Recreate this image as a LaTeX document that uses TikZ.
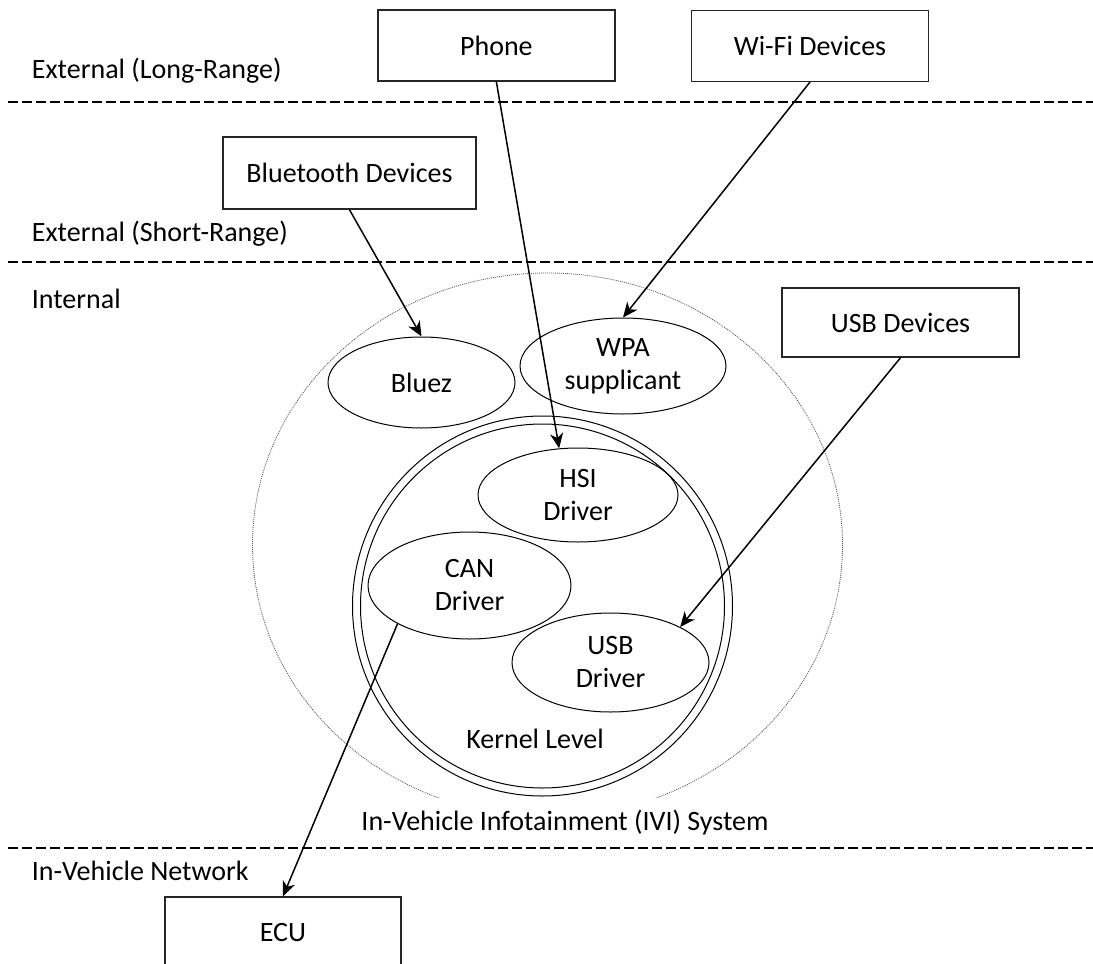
\documentclass[tikz,border=0pt]{standalone}
\usepackage{fontspec}
\setmainfont{Carlito}
\usetikzlibrary{arrows.meta,shapes.geometric}
\begin{document}
\begin{tikzpicture}[x=1pt,y=-1pt,
  every node/.style={font=\fontsize{28}{33}\selectfont},
  box/.style={draw=black!85, line width=1.5pt, minimum width=237pt, minimum height=71pt, inner sep=0pt},
  oval/.style={ellipse, draw=black, line width=1pt, inner sep=0pt, align=center},
  ring/.style={circle, draw=black, line width=1pt, inner sep=0pt},
  lbl/.style={anchor=base west, inner sep=0pt},
  sepline/.style={line width=2.4pt, dash pattern=on 10pt off 4pt},
  outerline/.style={line width=0.8pt, black!65, dash pattern=on 1pt off 1pt},
  arr/.style={line width=1.5pt, -{Stealth[length=15pt,width=13pt,inset=4.5pt]}}
]
\useasboundingbox (0,0) rectangle (1093,964);

% separators
\draw[sepline] (8,101.7) -- (1093,101.7);
\draw[sepline] (8,261.7) -- (1093,261.7);
\draw[sepline] (8,848) -- (1093,848);

% zone labels
\node[lbl] (tlr) at (31.7,78) {External (Long-Range)};
\node[lbl] (tsr) at (31.7,241.5) {External (Short-Range)};
\node[lbl] (tin) at (31.7,308) {Internal};
\node[lbl] (tivn) at (31.7,880) {In-Vehicle Network};

% IVI system container
\begin{scope}
\clip (0,0) rectangle (1093,797);
\draw[outerline] (547.5,545) ellipse [x radius=295, y radius=272];
\end{scope}
\node[anchor=base, inner sep=0pt] (tivi) at (565,830) {In-Vehicle Infotainment (IVI) System};

% kernel level
\node[ring, minimum size=380pt] (kout) at (542.5,606) {};
\node[ring, minimum size=364pt] (kin) at (542.5,606) {};
\node[anchor=base, inner sep=0pt] (tkern) at (535,748) {Kernel Level};

% boxes
\node[box] (phone) at (496.4,45.7) {Phone};
\node[box] (wifi) at (810,45.8) {Wi-Fi Devices};
\node[box, minimum width=253pt, minimum height=72pt] (bt) at (349.5,173) {Bluetooth Devices};
\node[box, minimum height=69pt] (usbdev) at (900.5,322.5) {USB Devices};
\node[box, minimum width=236pt, minimum height=72pt] (ecu) at (283,933) {ECU};

% ellipses
\node[oval, minimum width=187pt, minimum height=91pt] (bluez) at (421.5,382.5) {Bluez};
\node[oval, minimum width=206pt, minimum height=96pt] (wpa) at (623,366) {WPA\\supplicant};
\node[oval, minimum width=200pt, minimum height=94pt] (hsi) at (578,495) {HSI\\Driver};
\node[oval, minimum width=203pt, minimum height=107pt] (can) at (469.5,585.5) {CAN\\Driver};
\node[oval, minimum width=197pt, minimum height=99pt] (usbdrv) at (610.5,662.5) {USB\\Driver};

% connectors
\draw[arr] (phone.south) -- (hsi.112);
\draw[arr] (wifi.south) -- (wpa.north);
\draw[arr] (bt.south) -- (bluez.north);
\draw[arr] (usbdev.south) -- (usbdrv.27);
\draw[arr] (can.208) -- (ecu.north);
\end{tikzpicture}
\end{document}
